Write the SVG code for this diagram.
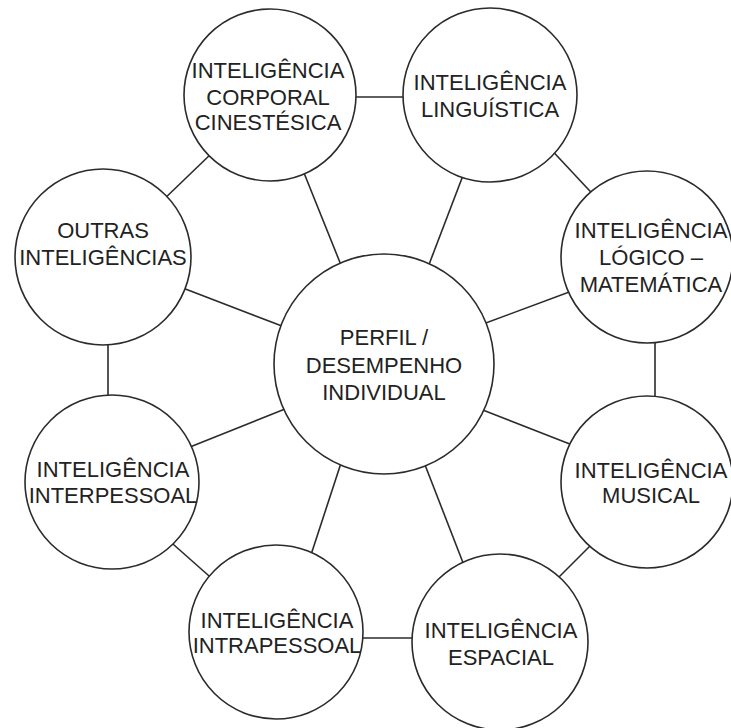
<svg xmlns="http://www.w3.org/2000/svg" width="731" height="728" viewBox="0 0 731 728">
<style>
.c{fill:#fff;stroke:#2b2b2b;stroke-width:1.6}
.l{stroke:#2b2b2b;stroke-width:1.6;fill:none}
text{font-family:"Liberation Sans",Arial,sans-serif;font-size:22px;fill:#222;text-anchor:middle}
</style>
<rect width="731" height="728" fill="#fff"/>
<g id="connectors">
<line class="l" x1="340" y1="97" x2="415" y2="97"/>
<line class="l" x1="545" y1="143" x2="602" y2="204"/>
<line class="l" x1="655" y1="330" x2="655" y2="410"/>
<line class="l" x1="600" y1="536" x2="548" y2="588"/>
<line class="l" x1="350" y1="638" x2="425" y2="638"/>
<line class="l" x1="165" y1="537" x2="217" y2="583"/>
<line class="l" x1="108" y1="330" x2="108" y2="410"/>
<line class="l" x1="160" y1="203" x2="213" y2="152"/>
<line class="l" x1="300" y1="163" x2="345" y2="275"/>
<line class="l" x1="467" y1="165" x2="425" y2="275"/>
<line class="l" x1="580" y1="288" x2="475" y2="327"/>
<line class="l" x1="580" y1="448" x2="470" y2="405"/>
<line class="l" x1="420" y1="452" x2="467" y2="573"/>
<line class="l" x1="343" y1="457" x2="307" y2="567"/>
<line class="l" x1="185" y1="449" x2="295" y2="405"/>
<line class="l" x1="175" y1="285" x2="295" y2="331"/>
</g>
<g id="center">
<circle class="c" cx="384" cy="364" r="110"/>
<text x="384" y="345">PERFIL /</text>
<text x="384" y="373">DESEMPENHO</text>
<text x="384" y="400">INDIVIDUAL</text>
</g>
<g id="corporal">
<circle class="c" cx="270" cy="95" r="86"/>
<text x="268" y="78">INTELIGÊNCIA</text>
<text x="268" y="105">CORPORAL</text>
<text x="268" y="130">CINESTÉSICA</text>
</g>
<g id="linguistica">
<circle class="c" cx="490" cy="95" r="87"/>
<text x="490" y="90">INTELIGÊNCIA</text>
<text x="490" y="117">LINGUÍSTICA</text>
</g>
<g id="logico">
<circle class="c" cx="647" cy="257" r="86"/>
<text x="651" y="238">INTELIGÊNCIA</text>
<text x="651" y="265">LÓGICO –</text>
<text x="651" y="292">MATEMÁTICA</text>
</g>
<g id="musical">
<circle class="c" cx="647" cy="482" r="86"/>
<text x="651" y="478">INTELIGÊNCIA</text>
<text x="651" y="503">MUSICAL</text>
</g>
<g id="espacial">
<circle class="c" cx="500" cy="642" r="88"/>
<text x="501" y="638">INTELIGÊNCIA</text>
<text x="501" y="665">ESPACIAL</text>
</g>
<g id="intrapessoal">
<circle class="c" cx="276" cy="632" r="87"/>
<text x="277" y="628">INTELIGÊNCIA</text>
<text x="277" y="653">INTRAPESSOAL</text>
</g>
<g id="interpessoal">
<circle class="c" cx="112" cy="482" r="87"/>
<text x="113" y="477">INTELIGÊNCIA</text>
<text x="113" y="503">INTERPESSOAL</text>
</g>
<g id="outras">
<circle class="c" cx="103" cy="257" r="88"/>
<text x="103" y="238">OUTRAS</text>
<text x="103" y="265">INTELIGÊNCIAS</text>
</g>
</svg>
